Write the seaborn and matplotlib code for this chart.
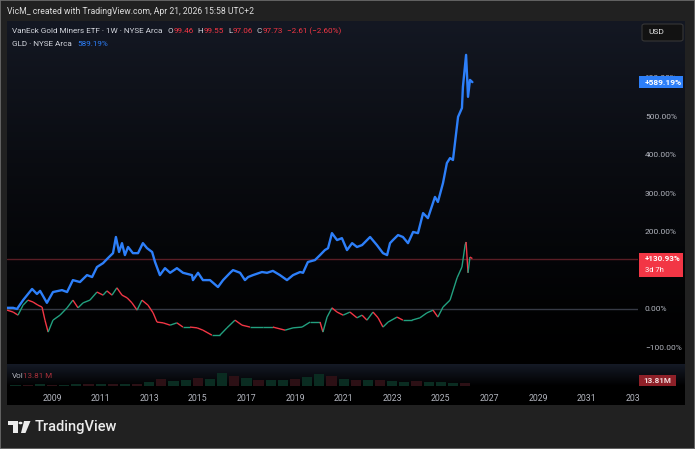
import numpy as np
import matplotlib
matplotlib.use("Agg")
import matplotlib.pyplot as plt
import seaborn as sns
from matplotlib.collections import LineCollection
from matplotlib.patches import Rectangle, FancyBboxPatch, Polygon, Circle
from matplotlib.transforms import Bbox, TransformedBbox

# ---- data (decimal year, % change since start) ----
gld_year = [2007.15, 2007.40, 2007.56, 2007.81, 2008.18, 2008.38, 2008.51, 2008.79, 2009.04, 2009.41,
            2009.62, 2009.86, 2010.15, 2010.44, 2010.65, 2010.85, 2011.10, 2011.30, 2011.51, 2011.63,
            2011.76, 2011.88, 2012.00, 2012.13, 2012.33, 2012.54, 2012.74, 2012.91, 2013.12, 2013.24,
            2013.44, 2013.65, 2013.86, 2014.14, 2014.39, 2014.76, 2014.80, 2015.01, 2015.21, 2015.50,
            2015.63, 2015.83, 2016.04, 2016.33, 2016.45, 2016.74, 2016.94, 2017.07, 2017.27, 2017.64,
            2017.85, 2018.09, 2018.38, 2018.67, 2018.92, 2019.21, 2019.33, 2019.53, 2019.82, 2020.03,
            2020.23, 2020.36, 2020.52, 2020.73, 2020.93, 2021.14, 2021.35, 2021.55, 2021.76, 2022.09,
            2022.37, 2022.62, 2022.79, 2022.91, 2023.03, 2023.24, 2023.44, 2023.65, 2023.86, 2024.06,
            2024.27, 2024.47, 2024.76, 2024.88, 2025.09, 2025.25, 2025.38, 2025.50, 2025.71, 2025.87,
            2025.91, 2026.04, 2026.12, 2026.20, 2026.30]
gld_pct = [3, 3, 0, 23, 52, 39, 47, 16, 44, 49,
           44, 75, 70, 88, 83, 109, 119, 132, 145, 187,
           148, 171, 140, 161, 145, 145, 171, 158, 148, 122,
           88, 106, 94, 106, 94, 88, 75, 94, 75, 75,
           68, 57, 75, 94, 101, 94, 75, 83, 88, 96,
           94, 99, 88, 75, 88, 96, 94, 122, 127, 140,
           153, 158, 197, 179, 184, 153, 171, 161, 166, 187,
           166, 145, 140, 171, 179, 192, 187, 171, 200, 197,
           249, 236, 291, 278, 327, 379, 392, 387, 499, 522,
           577, 660, 551, 595, 589.19]

gdx_year = [2007.15, 2007.40, 2007.60, 2007.81, 2008.01, 2008.22, 2008.42, 2008.59, 2008.71, 2008.84,
            2009.04, 2009.33, 2009.62, 2009.86, 2010.07, 2010.28, 2010.56, 2010.85, 2011.10, 2011.26,
            2011.47, 2011.67, 2011.88, 2012.09, 2012.29, 2012.50, 2012.70, 2012.95, 2013.16, 2013.32,
            2013.57, 2013.86, 2014.14, 2014.39, 2014.68, 2014.97, 2015.21, 2015.58, 2015.91, 2016.20,
            2016.53, 2016.82, 2017.15, 2017.68, 2018.09, 2018.59, 2018.92, 2019.29, 2019.62, 2020.03,
            2020.15, 2020.32, 2020.52, 2020.73, 2020.98, 2021.26, 2021.55, 2021.76, 2021.96, 2022.21,
            2022.42, 2022.62, 2022.83, 2023.20, 2023.44, 2023.81, 2024.14, 2024.43, 2024.68, 2024.88,
            2025.09, 2025.38, 2025.67, 2025.87, 2026.00, 2026.04, 2026.12, 2026.20, 2026.30]
gdx_pct = [-3, -8, -16, 10, 23, 18, 10, 5, -29, -60,
           -29, -16, 3, 23, 3, 16, 23, 44, 36, 47,
           36, 55, 36, 29, 16, -3, 23, 10, -10, -34,
           -36, -42, -36, -47, -47, -49, -55, -68, -68, -49,
           -29, -42, -47, -47, -47, -55, -49, -47, -34, -34,
           -60, -21, 3, -8, -16, -8, -23, -16, -29, -8,
           -23, -47, -34, -21, -29, -29, -23, -10, -3, -21,
           5, 23, 81, 109, 166, 174, 94, 135, 130.93]

vol_year = [2007.5, 2008.0, 2008.5, 2009.0, 2009.5, 2010.0, 2010.5, 2011.0, 2011.5, 2012.0,
            2012.5, 2013.0, 2013.5, 2014.0, 2014.5, 2015.0, 2015.5, 2016.0, 2016.5, 2017.0,
            2017.5, 2018.0, 2018.5, 2019.0, 2019.5, 2020.0, 2020.5, 2021.0, 2021.5, 2022.0,
            2022.5, 2023.0, 2023.5, 2024.0, 2024.5, 2025.0, 2025.5, 2026.0, 2026.3]
vol_m = [20, 30, 45, 40, 40, 45, 50, 60, 60, 60,
         70, 110, 200, 160, 170, 230, 210, 380, 300, 230,
         180, 170, 190, 220, 260, 360, 300, 200, 170, 190,
         170, 160, 130, 140, 120, 110, 90, 80, 13.81]
vol_up = [1, 0, 1, 0, 1, 1, 0, 1, 0, 1,
          0, 1, 0, 1, 1, 0, 1, 1, 0, 1,
          0, 1, 1, 0, 1, 1, 0, 1, 0, 1,
          0, 1, 1, 0, 1, 1, 1, 0, 0]

# the 100.00% level sits fully under the red price label, so it is not listed
y_ticks = [-100, 0, 200, 300, 400, 500, 600]
year_ticks = list(range(2009, 2034, 2))

header = "VicM_ created with TradingView.com, Apr 21, 2026 15:58 UTC+2"
symbol = "VanEck Gold Miners ETF · 1W · NYSE Arca"
ohlc = [("O", "99.46"), ("H", "99.55"), ("L", "97.06"), ("C", "97.73")]
change = "−2.61 (−2.60%)"
compare = "GLD · NYSE Arca"
gld_last = gld_pct[-1]
gdx_last = gdx_pct[-1]
countdown = "3d 7h"
vol_last = "13.81 M"

# ---- style ----
sns.set_theme(style="dark")
plt.rcParams['font.family'] = ['Roboto', 'DejaVu Sans']

BLUE = '#2d7ff9'
RED = '#f23645'
GREEN = '#22a07f'
TXT = '#d1d4dc'
AXT = '#b2b5be'

W, H = 695, 449
fig = plt.figure(figsize=(W / 100, H / 100), dpi=100)
fig.patch.set_facecolor('#212121')


def fx(px):
    return px / W


def fy(py):
    return 1 - py / H


# panel background gradient
top, split, vbot, bot = 21, 364, 386, 405
bg = fig.add_axes([fx(7), fy(bot), fx(685) - fx(7), fy(top) - fy(bot)])
rows = np.arange(top, bot) + 0.5
grad = np.zeros((len(rows), 1, 3))
c_top = np.array([20, 24, 35]) / 255
for i, r in enumerate(rows):
    if r < split:
        t = (r - top) / (split - top)
        grad[i, 0] = c_top * (1 - t) ** 1.3
    elif r < vbot:
        t = (r - split) / (vbot - split)
        grad[i, 0] = np.array([21, 26, 38]) / 255 * (1 - t)
bg.imshow(grad, aspect='auto', extent=[0, 1, 0, 1], interpolation='bilinear')
bg.axis('off')

# price pane
ax = fig.add_axes([fx(7), fy(split), fx(638) - fx(7), fy(top) - fy(split)])
ax.patch.set_alpha(0)
ax.set_xlim(2007.148, 2033.115)
ax.set_ylim(-142.9, 748)
for s in ax.spines.values():
    s.set_visible(False)

ax.axhline(0, color='#363a45', lw=1, zorder=1)
ax.axhline(gdx_last, color='#5a1d25', lw=1, zorder=1)

sns.lineplot(x=gld_year, y=gld_pct, ax=ax, color=BLUE, linewidth=1.7, zorder=3)

pts = np.column_stack([gdx_year, gdx_pct])
segs = np.stack([pts[:-1], pts[1:]], axis=1)
cols = np.where(np.diff(gdx_pct) >= 0, GREEN, RED)
ax.add_collection(LineCollection(segs, colors=cols, linewidths=1.0, zorder=2))

ax.set_xticks([])
ax.yaxis.tick_right()
ax.set_yticks(y_ticks)
ax.set_yticklabels([f"{v:.2f}%".replace('-', '−') for v in y_ticks])
ax.tick_params(axis='y', length=0, pad=5, labelsize=6, labelcolor=AXT)
ax.grid(False)
ax.set_xlabel('')
ax.set_ylabel('')

# volume pane
vax = fig.add_axes([fx(7), fy(vbot), fx(638) - fx(7), fy(split) - fy(vbot)])
vax.patch.set_alpha(0)
vax.set_xlim(ax.get_xlim())
vax.set_ylim(0, 650)
vcols = ['#0a2c21' if u else '#2c1015' for u in vol_up]
vax.bar(vol_year, vol_m, width=0.42, color=vcols, linewidth=0)
for s in vax.spines.values():
    s.set_visible(False)
vax.set_yticks([])
vax.grid(False)
vax.set_xticks(year_ticks)
vax.set_xticklabels([str(y) for y in year_ticks])
vax.tick_params(axis='x', length=0, pad=6, labelsize=6.3, labelcolor=AXT)
clip = TransformedBbox(Bbox.from_extents(fx(7), fy(bot), fx(640), fy(vbot)), fig.transFigure)
for tk in vax.xaxis.get_major_ticks():
    tk.label1.set_clip_box(clip)
    tk.label1.set_clip_on(True)


def fig_y(v):
    d = ax.transData.transform((ax.get_xlim()[0], v))
    return fig.transFigure.inverted().transform(d)[1]


# price-scale labels
yb = fig_y(gld_last)
fig.patches.append(Rectangle((fx(639), yb - 6 / H), fx(683) - fx(639), 12 / H,
                             transform=fig.transFigure, fc=BLUE, ec='none', zorder=5))
fig.text(fx(645), yb, "+" + f"{gld_last:.2f}%", color='white', fontsize=6, fontweight='bold',
         va='center', ha='left', zorder=6)
yr = fig_y(gdx_last)
fig.patches.append(Rectangle((fx(639), yr - 18 / H), fx(683) - fx(639), 24 / H,
                             transform=fig.transFigure, fc=RED, ec='none', zorder=5))
fig.text(fx(645), yr + 0.5 / H, "+" + f"{gdx_last:.2f}%", color='white', fontsize=5.8,
         fontweight='bold', va='center', ha='left', zorder=6)
fig.text(fx(645), yr - 11.5 / H, countdown, color='white', fontsize=5.5, va='center', ha='left',
         zorder=6)

# volume labels
fig.patches.append(Rectangle((fx(639), fy(386)), fx(676) - fx(639), 11 / H,
                             transform=fig.transFigure, fc='#8e2028', ec='none', zorder=5))
fig.text(fx(657.5), fy(380.5), vol_last.replace(' ', ''), color='#f2dede', fontsize=5.8,
         fontweight='bold', va='center', ha='center', zorder=6)
fig.text(fx(12), fy(376), "Vol", color=AXT, fontsize=5.8, va='center', ha='left')
fig.text(fx(23), fy(376), vol_last, color='#a8303a', fontsize=5.8, va='center', ha='left')

# USD button
fig.patches.append(FancyBboxPatch((fx(642), fy(41)), fx(683) - fx(642), 17 / H,
                                  boxstyle='round,pad=0,rounding_size=0.004',
                                  transform=fig.transFigure, fc='#121212', ec='#363636', lw=0.8))
fig.text(fx(648), fy(32.5), "USD", color='#e6e6e6', fontsize=6, va='center', ha='left')

# header and legend text
fig.text(fx(7), fy(12), header, color='#dcdcdc', fontsize=6.2, va='center', ha='left')
renderer = fig.canvas.get_renderer()


def put_pieces(x, y, pieces, size):
    for s, c, gap in pieces:
        t = fig.text(fx(x), fy(y), s, color=c, fontsize=size, va='center', ha='left')
        x += t.get_window_extent(renderer).width + gap


line1 = [(symbol, TXT, 5)]
for k, v in ohlc:
    line1 += [(k, TXT, 0.3), (v, RED, 4)]
line1 += [(change, RED, 0)]
put_pieces(12, 31, line1, 5.9)
put_pieces(12, 44, [(compare, TXT, 5), (f"{gld_last:.2f}%", BLUE, 0)], 5.9)

# footer logo
ink = '#ececec'
fig.patches.append(Polygon([(fx(8), fy(421)), (fx(17.5), fy(421)), (fx(17.5), fy(433)),
                            (fx(13.5), fy(433)), (fx(13.5), fy(425)), (fx(8), fy(425))],
                           closed=True, transform=fig.transFigure, fc=ink, ec='none'))
fig.patches.append(Circle((fx(20.5), fy(423)), 2 / W, transform=fig.transFigure, fc=ink, ec='none'))
fig.patches.append(Polygon([(fx(24), fy(421)), (fx(30.5), fy(421)), (fx(25.5), fy(433)),
                            (fx(21), fy(433))],
                           closed=True, transform=fig.transFigure, fc=ink, ec='none'))
fig.text(fx(35), fy(427), "TradingView", color=ink, fontsize=10.5, fontweight='medium',
         va='center', ha='left')

fig.patches.append(Rectangle((0, 0), 1, 1, transform=fig.transFigure, fill=False,
                             ec='#6e6e6e', lw=1.2, zorder=10))

fig.savefig("out.png", dpi=100, facecolor=fig.get_facecolor())
